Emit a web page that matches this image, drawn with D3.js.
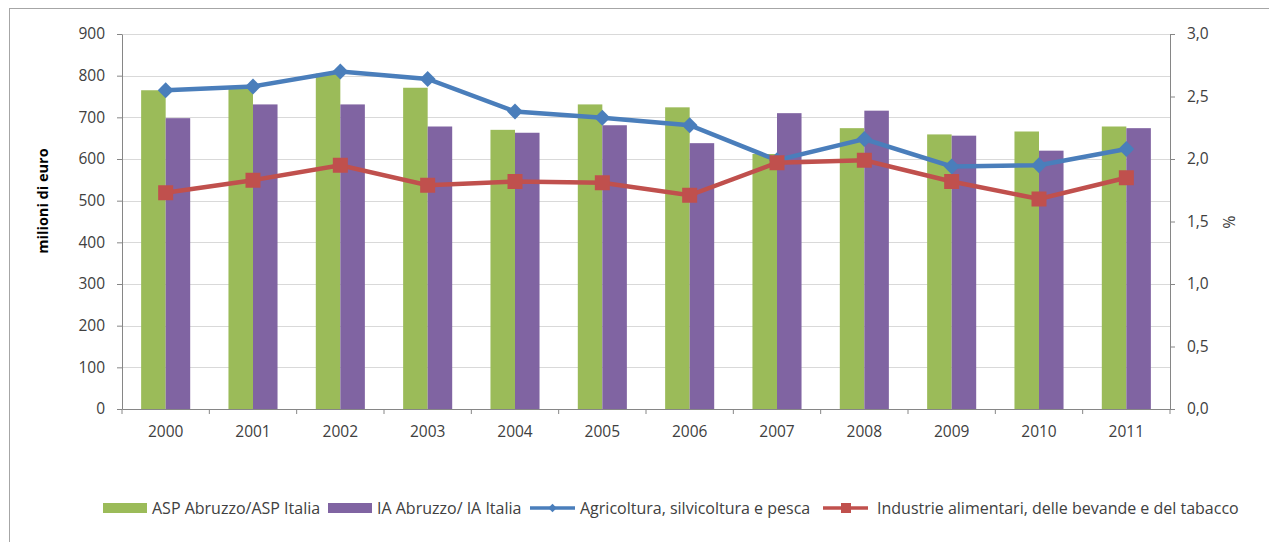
<!DOCTYPE html>
<html>
<head>
<meta charset="utf-8">
<script src="https://cdn.jsdelivr.net/npm/d3@7"></script>
<style>
  body { margin: 0; background: #fff; }
  svg { display: block; font-family: 'Open Sans', sans-serif; }
</style>
</head>
<body>
<svg id="chart" width="1269" height="542"></svg>
<script>
const years = ['2000','2001','2002','2003','2004','2005','2006','2007','2008','2009','2010','2011'];
const aspRatio = [765, 770, 805, 771, 670, 731, 724, 612, 674, 659, 666, 678];
const iaRatio = [698, 731, 731, 678, 663, 681, 638, 710, 716, 656, 620, 674];
const agricoltura = [2.55, 2.58, 2.70, 2.64, 2.38, 2.33, 2.27, 1.99, 2.16, 1.94, 1.95, 2.08];
const industrie = [1.73, 1.83, 1.95, 1.79, 1.82, 1.81, 1.71, 1.97, 1.99, 1.82, 1.68, 1.85];
const leftTicks = [0, 100, 200, 300, 400, 500, 600, 700, 800, 900];
const rightTicks = [0, 0.5, 1, 1.5, 2, 2.5, 3];
const seriesNames = ['ASP Abruzzo/ASP Italia', 'IA Abruzzo/ IA Italia', 'Agricoltura, silvicoltura e pesca', 'Industrie alimentari, delle bevande e del tabacco'];

const colors = { asp: '#9bbb59', ia: '#8064a2', agr: '#4a7ebb', ind: '#c0504d' };
const svg = d3.select('#chart');
const plotLeft = 122, plotRight = 1170, plotTop = 34, plotBottom = 409;

// chart border
svg.append('rect')
  .attr('x', 9.5).attr('y', 8.5)
  .attr('width', 1300).attr('height', 600)
  .attr('fill', 'none').attr('stroke', '#a6a6a6');

const x = d3.scaleBand().domain(years).range([plotLeft, plotRight]);
const x1 = d3.scaleBand().domain(['asp', 'ia']).range([0, x.bandwidth()]).paddingOuter(0.78);
const y = d3.scaleLinear().domain([0, 900]).range([plotBottom, plotTop]);
const y2 = d3.scaleLinear().domain([0, 3]).range([plotBottom, plotTop]);

// gridlines
svg.append('g').selectAll('line')
  .data(leftTicks.filter(d => d > 0))
  .enter().append('line')
  .attr('x1', plotLeft).attr('x2', plotRight)
  .attr('y1', d => Math.round(y(d)) + 0.5).attr('y2', d => Math.round(y(d)) + 0.5)
  .attr('stroke', '#d9d9d9');

// bars
const groups = svg.append('g').selectAll('g')
  .data(years)
  .enter().append('g')
  .attr('transform', d => `translate(${x(d)},0)`);

groups.append('rect')
  .attr('x', x1('asp')).attr('width', x1.bandwidth())
  .attr('y', (d, i) => y(aspRatio[i])).attr('height', (d, i) => plotBottom - y(aspRatio[i]))
  .attr('fill', colors.asp);

groups.append('rect')
  .attr('x', x1('ia')).attr('width', x1.bandwidth())
  .attr('y', (d, i) => y(iaRatio[i])).attr('height', (d, i) => plotBottom - y(iaRatio[i]))
  .attr('fill', colors.ia);

// axes
const axisStyle = g => {
  g.attr('font-size', null).attr('font-family', null);
  g.select('.domain').attr('stroke', '#868686');
  g.selectAll('.tick line').attr('stroke', '#868686');
  g.selectAll('.tick text').attr('fill', '#404040').style('font-size', '15.5px');
};

svg.append('g')
  .attr('transform', `translate(${plotLeft},0)`)
  .call(d3.axisLeft(y).tickValues(leftTicks).tickSize(5).tickSizeOuter(0).tickPadding(12))
  .call(axisStyle);

svg.append('g')
  .attr('transform', `translate(${plotRight},0)`)
  .call(d3.axisRight(y2).tickValues(rightTicks).tickSize(5).tickSizeOuter(0).tickPadding(12)
    .tickFormat(d => d3.format('.1f')(d).replace('.', ',')))
  .call(axisStyle);

const xAxis = svg.append('g')
  .attr('transform', `translate(0,${plotBottom})`)
  .call(d3.axisBottom(x).tickSize(0).tickPadding(17))
  .call(axisStyle);
xAxis.selectAll('.sep')
  .data(years.concat(['end']))
  .enter().append('line')
  .attr('x1', (d, i) => plotLeft + i * x.step()).attr('x2', (d, i) => plotLeft + i * x.step())
  .attr('y1', 0).attr('y2', 5)
  .attr('stroke', '#868686');

// lines
const lineGen = yS => d3.line().x((d, i) => x(years[i]) + x.bandwidth() / 2).y(d => yS(d));

svg.append('path')
  .datum(agricoltura)
  .attr('d', lineGen(y2))
  .attr('fill', 'none').attr('stroke', colors.agr).attr('stroke-width', 4.5);
svg.append('g').selectAll('path')
  .data(agricoltura)
  .enter().append('path')
  .attr('d', d3.symbol(d3.symbolDiamond2, 160))
  .attr('transform', (d, i) => `translate(${x(years[i]) + x.bandwidth() / 2},${y2(d)})`)
  .attr('fill', colors.agr);

svg.append('path')
  .datum(industrie)
  .attr('d', lineGen(y2))
  .attr('fill', 'none').attr('stroke', colors.ind).attr('stroke-width', 4.5);
svg.append('g').selectAll('rect')
  .data(industrie)
  .enter().append('rect')
  .attr('x', (d, i) => x(years[i]) + x.bandwidth() / 2 - 7.5)
  .attr('y', d => y2(d) - 7.5)
  .attr('width', 15).attr('height', 15)
  .attr('fill', colors.ind);

// axis titles
svg.append('text')
  .attr('transform', 'translate(48,201) rotate(-90)')
  .attr('text-anchor', 'middle')
  .style('font-size', '14.5px').style('font-weight', 'bold')
  .attr('fill', '#000')
  .text('milioni di euro');

svg.append('text')
  .attr('transform', 'translate(1223,222) rotate(90)')
  .attr('text-anchor', 'middle')
  .style('font-size', '16px')
  .attr('fill', '#404040')
  .text('%');

// legend
const legendY = 508;
const legend = svg.append('g').style('font-size', '16px').attr('fill', '#404040');
const legendItems = [
  { type: 'bar', color: colors.asp, x: 103, tx: 152 },
  { type: 'bar', color: colors.ia, x: 328, tx: 377 },
  { type: 'line', color: colors.agr, x: 530, tx: 580, marker: 'diamond' },
  { type: 'line', color: colors.ind, x: 823, tx: 877, marker: 'square' }
];
legendItems.forEach((item, i) => {
  if (item.type === 'bar') {
    legend.append('rect')
      .attr('x', item.x).attr('y', legendY - 5)
      .attr('width', 44).attr('height', 10)
      .attr('fill', item.color);
  } else {
    legend.append('line')
      .attr('x1', item.x).attr('x2', item.x + 45)
      .attr('y1', legendY).attr('y2', legendY)
      .attr('stroke', item.color).attr('stroke-width', 3.5);
    if (item.marker === 'diamond') {
      legend.append('path')
        .attr('d', d3.symbol(d3.symbolDiamond2, 45))
        .attr('transform', `translate(${item.x + 22.5},${legendY})`)
        .attr('fill', item.color);
    } else {
      legend.append('rect')
        .attr('x', item.x + 18).attr('y', legendY - 5)
        .attr('width', 10).attr('height', 10)
        .attr('fill', item.color);
    }
  }
  legend.append('text')
    .attr('x', item.tx).attr('y', legendY + 5.5)
    .text(seriesNames[i]);
});
</script>
</body>
</html>
